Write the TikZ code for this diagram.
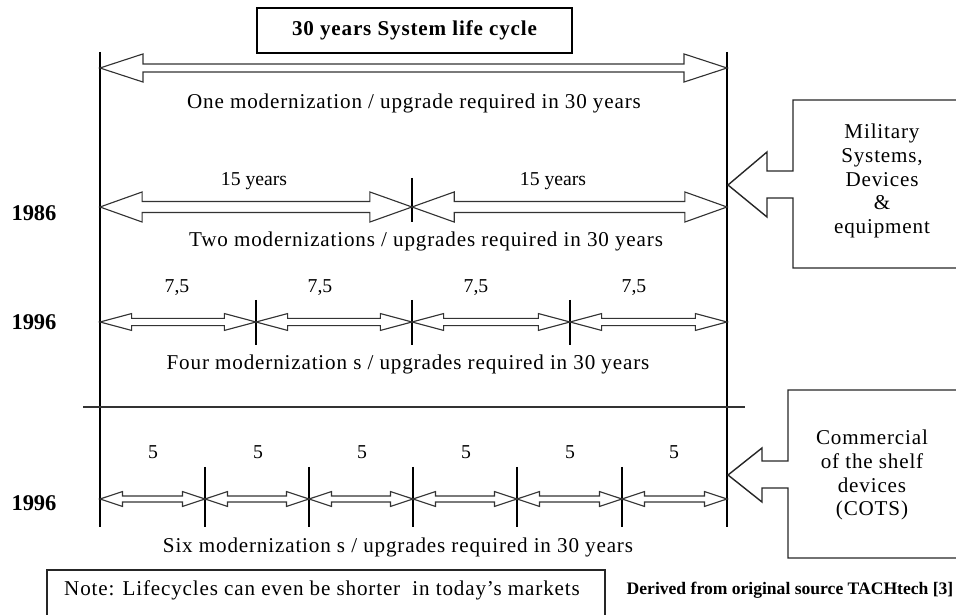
\documentclass[tikz,border=0pt]{standalone}
\usepackage{fontspec}
\setmainfont{Liberation Serif}
\newfontfamily\spaced{Liberation Serif}[LetterSpace=4]
\usetikzlibrary{calc}
\tikzset{
    dbl/.style n args={3}{to path={-- ++(#1,#2) -- ++(0pt,#3-#2) -- ([shift={(-#1,#3)}]\tikztotarget) -- ++(0pt,#2-#3) -- (\tikztotarget) -- ++(-#1,-#2) -- ++(0pt,#2-#3) -- ([shift={(#1,-#3)}]\tikztostart) -- ++(0pt,#3-#2) -- cycle}},
    arr/.style={draw=black!80, line width=0.8pt, line join=miter},
    tick/.style={line width=1.5pt},
    bar/.style={line width=2.1pt},
    lbl/.style={font=\fontsize{15}{17}\selectfont\spaced},
    num/.style={font=\fontsize{14}{16}\selectfont},
    yr/.style={font=\fontsize{16}{18}\selectfont\bfseries},
    callout/.style={draw=black!85, line width=1pt, line join=miter},
}
\begin{document}
\begin{tikzpicture}[x=0.025cm, y=-0.025cm]
            \useasboundingbox (0,0) rectangle (956,615);
            \clip (0,0) rectangle (956,615);

            \node[draw, line width=1pt, minimum width=224pt, minimum height=32pt, font=\fontsize{15}{17}\selectfont\spaced\bfseries] (title) at (414.5,30.5) {30 years System life cycle};

            \coordinate (ltop) at (100,52);
            \coordinate (lbot) at (100,527);
            \coordinate (rtop) at (727,52);
            \coordinate (rbot) at (727,527);
            \draw[bar] (ltop) -- (lbot);
            \draw[bar] (rtop) -- (rbot);

            \coordinate (a0) at (100,68);
            \coordinate (a1) at (727,68);
            \draw[arr, dbl={30.6pt}{10pt}{2.85pt}] (a0) to (a1);
            \node[lbl] (one) at (414,103) {One modernization / upgrade required in 30 years};

            \node[yr] (y86) at (34,213) {1986};
            \coordinate (b0) at (100,207);
            \coordinate (b1) at (412,207);
            \coordinate (b2) at (727,207);
            \draw[tick] (412,178) -- (412,222);
            \draw[arr, dbl={30pt}{10.7pt}{3.9pt}] (b0) to (b1);
            \draw[arr, dbl={30pt}{10.7pt}{3.9pt}] (b1) to (b2);
            \node[num] (b01) at (254,181) {15 years};
            \node[num] (b12) at (553,181) {15 years};
            \node[lbl] (two) at (426,241) {Two modernizations / upgrades required in 30 years};

            \node[yr] (y96a) at (34,322) {1996};
            \foreach \i/\x in {0/100,1/256,2/412,3/570,4/727}
                \coordinate (c\i) at (\x,322);
            \foreach \x in {256,412,570}
                \draw[tick] (\x,300) -- (\x,345);
            \foreach \i/\j in {0/1,1/2,2/3,3/4}
                \draw[arr, dbl={22.5pt}{6pt}{2.6pt}] (c\i) to (c\j);
            \foreach \i/\x in {1/177,2/320,3/476,4/634}
                \node[num] (cl\i) at (\x,288) {7,5};
            \node[lbl] (four) at (408,364) {Four modernization s / upgrades required in 30 years};

            \draw[line width=0.8pt, black!80] (83,407) -- (745,407);

            \node[yr] (y96b) at (34,503) {1996};
            \foreach \i/\x in {0/100,1/205,2/309,3/413,4/517,5/622,6/727}
                \coordinate (d\i) at (\x,499);
            \foreach \x in {205,309,413,517,622}
                \draw[tick] (\x,467) -- (\x,527);
            \foreach \i/\j in {0/1,1/2,2/3,3/4,4/5,5/6}
                \draw[arr, dbl={16pt}{5.3pt}{2.1pt}] (d\i) to (d\j);
            \foreach \i/\x in {1/153,2/258,3/362,4/466,5/570,6/674}
                \node[num] (dl\i) at (\x,452) {5};
            \node[lbl] (six) at (398,547) {Six modernization s / upgrades required in 30 years};

            \draw[callout] (970,100) -- (793,100) -- (793,171) -- (767,171) -- (767,152) -- (728,185) -- (767,217) -- (767,198) -- (793,198) -- (793,268) -- (970,268);
            \node[lbl, align=center] (mil) at (882,181) {Military\\Systems,\\Devices\\\&\\equipment};

            \draw[callout] (970,390) -- (788,390) -- (788,461) -- (762,461) -- (762,448) -- (728,475) -- (762,502) -- (762,488) -- (788,488) -- (788,558) -- (970,558);
            \node[lbl, align=center] (cots) at (872,475) {Commercial\\of the shelf\\devices\\(COTS)};

            \draw[callout] (605,640) -- (605,570) -- (47,570) -- (47,640);
            \node[lbl] (note) at (322,590) {Note: Lifecycles can even be shorter\ \ in today’s markets};
            \node[font=\fontsize{12.5}{14}\selectfont\bfseries] (src) at (790,590) {Derived from original source TACHtech [3]};
\end{tikzpicture}
\end{document}
